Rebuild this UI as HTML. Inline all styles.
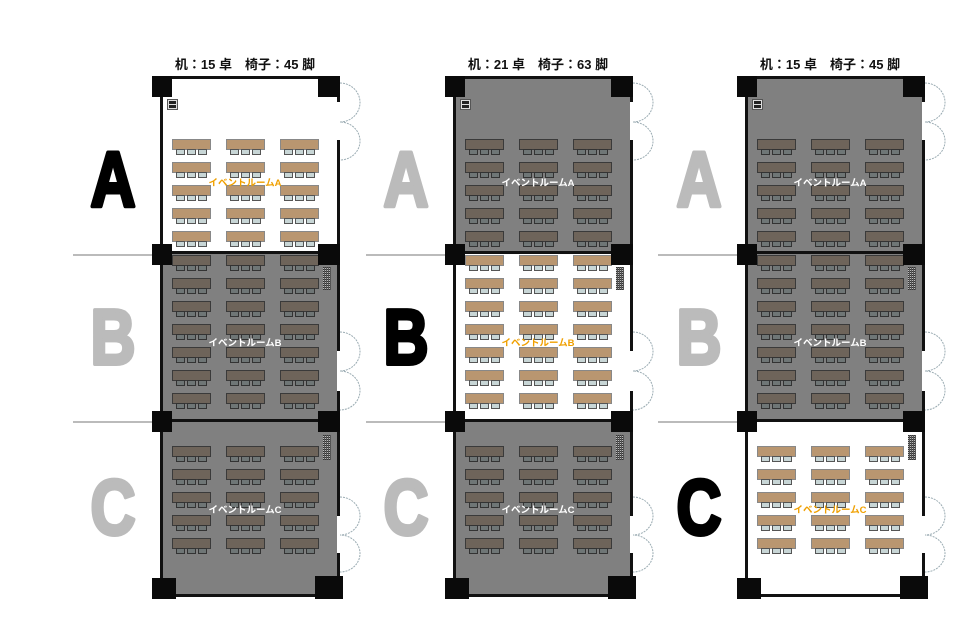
<!DOCTYPE html>
<html><head><meta charset="utf-8">
<style>
html,body{margin:0;padding:0;background:#fff;width:960px;height:640px;overflow:hidden}
svg{display:block}
.t{font-family:"Liberation Sans","Noto Sans CJK JP",sans-serif;font-weight:bold;font-size:13px;fill:#111}
.lab{font-family:"Liberation Sans","Noto Sans CJK JP",sans-serif;font-weight:bold;font-size:9.5px}
.big{font-family:"Liberation Sans",sans-serif;font-weight:bold;font-size:78px;stroke-width:4;stroke-linejoin:round}
</style></head>
<body>
<svg id="s" width="960" height="640" viewBox="0 0 960 640" xmlns="http://www.w3.org/2000/svg">
<g id="shapes"></g>
<text class="t" x="245" y="69" text-anchor="middle">机：15 卓　椅子：45 脚</text>
<text class="t" x="538" y="69" text-anchor="middle">机：21 卓　椅子：63 脚</text>
<text class="t" x="830" y="69" text-anchor="middle">机：15 卓　椅子：45 脚</text>

<text class="lab" x="245" y="186" text-anchor="middle" fill="#f0a000">イベントルームA</text>
<text class="lab" x="245" y="346" text-anchor="middle" fill="#fff">イベントルームB</text>
<text class="lab" x="245" y="513" text-anchor="middle" fill="#fff">イベントルームC</text>
<text class="lab" x="538" y="186" text-anchor="middle" fill="#fff">イベントルームA</text>
<text class="lab" x="538" y="346" text-anchor="middle" fill="#f0a000">イベントルームB</text>
<text class="lab" x="538" y="513" text-anchor="middle" fill="#fff">イベントルームC</text>
<text class="lab" x="830" y="186" text-anchor="middle" fill="#fff">イベントルームA</text>
<text class="lab" x="830" y="346" text-anchor="middle" fill="#fff">イベントルームB</text>
<text class="lab" x="830" y="513" text-anchor="middle" fill="#f0a000">イベントルームC</text>

<g transform="translate(113,0) scale(0.8,1)"><text class="big" x="0" y="206" text-anchor="middle" fill="#000" stroke="#000">A</text><text class="big" x="0" y="364" text-anchor="middle" fill="#bbb" stroke="#bbb">B</text><text class="big" x="0" y="534" text-anchor="middle" fill="#bbb" stroke="#bbb">C</text></g>
<g transform="translate(406,0) scale(0.8,1)"><text class="big" x="0" y="206" text-anchor="middle" fill="#bbb" stroke="#bbb">A</text><text class="big" x="0" y="364" text-anchor="middle" fill="#000" stroke="#000">B</text><text class="big" x="0" y="534" text-anchor="middle" fill="#bbb" stroke="#bbb">C</text></g>
<g transform="translate(699,0) scale(0.8,1)"><text class="big" x="0" y="206" text-anchor="middle" fill="#bbb" stroke="#bbb">A</text><text class="big" x="0" y="364" text-anchor="middle" fill="#bbb" stroke="#bbb">B</text><text class="big" x="0" y="534" text-anchor="middle" fill="#000" stroke="#000">C</text></g>
</svg>
<script>
var h='';
function R(x,y,w,ht,f,st){h+='<rect x="'+x+'" y="'+y+'" width="'+w+'" height="'+ht+'" fill="'+f+'"'+(st?' stroke="'+st+'" stroke-width="1"':'')+'/>';}
function arcs(ox,t,m,b){
  var x=ox+340;
  h+='<path d="M'+x+' '+t+' A20 '+((m-t)/2)+' 0 0 1 '+x+' '+m+' A20 '+((b-m)/2)+' 0 0 1 '+x+' '+b+'" fill="none" stroke="#9aabb2" stroke-width="1" stroke-dasharray="2,1"/>';
}
function panel(ox,sel){
  var rooms=[[79,253,[139,162,185,208,231]],[253,421,[255,278,301,324,347,370,393]],[421,596,[446,469,492,515,538]]];
  [255,422].forEach(function(y){R(ox+73,y-1,87,2,'#bbb');});
  rooms.forEach(function(r,i){
    var s=(i==sel);
    R(ox+163,r[0],174,r[1]-r[0],s?'#fff':'#808080');
    var tf=s?'#b99670':'#6e645a', ts=s?'#888':'#3a3a3a', cf=s?'#c8d6d6':'#6f7676', cs=s?'#555':'#333';
    [172,226,280].forEach(function(cx){
      r[2].forEach(function(y){
        R(ox+cx+0.5,y+0.5,38,10,tf,ts);
        [4,15,26].forEach(function(d){R(ox+cx+d+0.5,y+10.5,8,5,cf,cs);});
      });
    });
  });
  R(ox+160,76,3,522,'#111');R(ox+160,76,180,3,'#111');R(ox+160,594,183,3,'#111');
  R(ox+160,251,180,3,'#111');R(ox+160,419,180,3,'#111');
  [[76,102],[140,351],[391,516],[553,598]].forEach(function(s){R(ox+337,s[0],3,s[1]-s[0],'#111');});
  arcs(ox,83,122,160);arcs(ox,332,371,410);arcs(ox,497,535,572);
  R(ox+152,76,20,21,'#0a0a0a');R(ox+318,76,22,21,'#0a0a0a');
  R(ox+152,244,20,21,'#0a0a0a');R(ox+318,244,22,21,'#0a0a0a');
  R(ox+152,411,20,21,'#0a0a0a');R(ox+318,411,22,21,'#0a0a0a');
  R(ox+152,578,24,21,'#0a0a0a');R(ox+315,576,28,23,'#0a0a0a');
  R(ox+167.5,99.5,10,10,'#ddd','#555');R(ox+169,101,7,3,'#222');R(ox+169,105,7,3,'#222');
  [[267,290],[435,460]].forEach(function(v){
    R(ox+323,v[0],8,v[1]-v[0],'#333');
    for(var y=v[0]+1;y<v[1];y+=2)R(ox+323,y,8,1,'#bbb');
    for(var x=ox+324;x<ox+331;x+=2)R(x,v[0],1,v[1]-v[0],'#555');
  });
}
panel(0,0);panel(293,1);panel(585,2);
document.getElementById('shapes').innerHTML=h;
</script>
</body></html>
